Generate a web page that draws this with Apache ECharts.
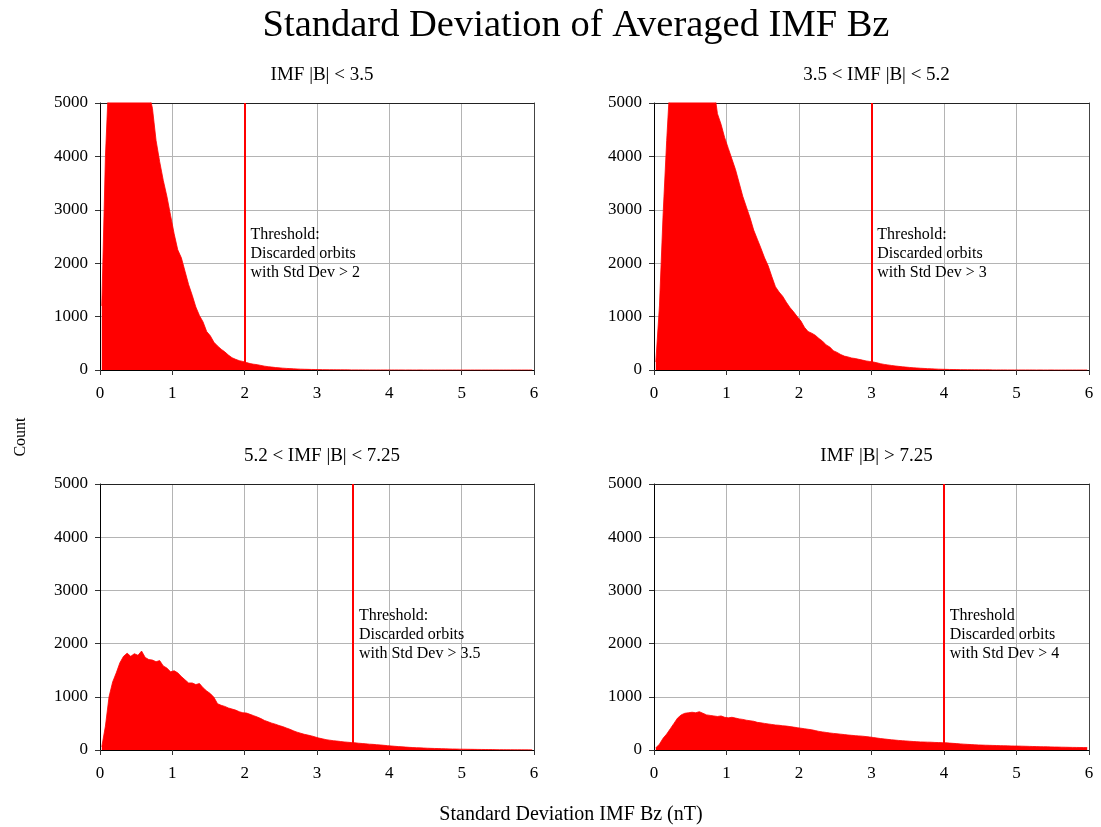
<!DOCTYPE html>
<html>
<head>
<meta charset="utf-8">
<script src="https://cdn.jsdelivr.net/npm/echarts@6/dist/echarts.min.js"></script>
<style>
  html, body { margin: 0; padding: 0; background: #fff; }
  #chart { width: 1101px; height: 827px; }
</style>
</head>
<body>
<div id="chart"></div>
<script>
// Histogram bins: left edges start at 0 and step by BIN_WIDTH (nT)
const BIN_WIDTH = 0.05;

const panelTitles = ['IMF |B| < 3.5', '3.5 < IMF |B| < 5.2', '5.2 < IMF |B| < 7.25', 'IMF |B| > 7.25'];
const thresholds = [2, 3, 3.5, 4];
const thresholdTexts = [
  'Threshold:\nDiscarded orbits\nwith Std Dev > 2',
  'Threshold:\nDiscarded orbits\nwith Std Dev > 3',
  'Threshold:\nDiscarded orbits\nwith Std Dev > 3.5',
  'Threshold\nDiscarded orbits\nwith Std Dev > 4'
];
const xTicks = [0, 1, 2, 3, 4, 5, 6];
const yTicks = [0, 1000, 2000, 3000, 4000, 5000];

// Counts per bin, |B| < 3.5
const countsLow = [
  1200, 4000, 5600, 6300, 6900, 7300, 7500, 7400, 7200, 6800,
  6300, 5900, 5500, 5200, 4900, 4300, 3900, 3550, 3250, 2900,
  2550, 2250, 2100, 1850, 1600, 1400, 1180, 1020, 900, 720,
  640, 520, 450, 390, 340, 280, 230, 200, 175, 160,
  140, 120, 108, 100, 85, 72, 62, 55, 46, 40,
  35, 30, 26, 22, 19, 16, 14, 12, 10, 9,
  8, 7, 6, 5, 5, 4, 4, 3, 3, 2,
  2, 2, 2, 1, 1, 1, 1, 1, 1, 1,
  1, 1, 1, 1, 0, 1, 0, 0, 1, 0,
  0, 0, 0, 0, 0, 0, 0, 0, 0, 0,
  0, 0, 0, 0, 0, 0, 0, 0, 0, 0,
  0, 0, 0, 0, 0, 0, 0, 0, 0, 0
];

// Counts per bin, 3.5 < |B| < 5.2
const countsMid = [
  150, 1200, 2900, 4300, 5500, 6100, 6600, 7000, 7200, 7300,
  7300, 7100, 6800, 6500, 6100, 5700, 5300, 4800, 4600, 4350,
  4150, 3950, 3750, 3500, 3250, 3050, 2850, 2620, 2450, 2280,
  2100, 1950, 1750, 1560, 1460, 1380, 1270, 1170, 1090, 1000,
  920, 800, 720, 690, 650, 590, 540, 470, 430, 360,
  330, 290, 260, 245, 225, 215, 200, 185, 170, 160,
  150, 135, 118, 105, 95, 85, 76, 68, 60, 54,
  48, 42, 38, 33, 29, 25, 22, 19, 16, 14,
  12, 10, 9, 8, 7, 6, 5, 5, 4, 4,
  3, 3, 3, 2, 2, 2, 2, 1, 1, 1,
  1, 1, 1, 1, 1, 0, 1, 0, 0, 1,
  0, 0, 0, 0, 0, 0, 0, 0, 0, 0
];

// Counts per bin, 5.2 < |B| < 7.25
const countsHigh = [
  60, 450, 1000, 1280, 1450, 1640, 1760, 1820, 1760, 1810,
  1780, 1860, 1740, 1700, 1690, 1660, 1680, 1580, 1540, 1470,
  1490, 1450, 1380, 1320, 1260, 1260, 1230, 1250, 1170, 1110,
  1060, 990, 870, 840, 820, 790, 770, 750, 720, 700,
  695, 670, 645, 620, 590, 555, 530, 505, 485, 460,
  440, 415, 390, 360, 335, 315, 295, 280, 265, 245,
  225, 210, 195, 185, 175, 168, 160, 152, 146, 140,
  135, 128, 122, 116, 110, 106, 100, 95, 88, 82,
  76, 70, 64, 60, 55, 50, 46, 43, 40, 37,
  34, 31, 29, 27, 25, 23, 21, 19, 18, 16,
  15, 14, 13, 12, 11, 10, 9, 8, 8, 7,
  6, 6, 5, 5, 4, 4, 4, 3, 3, 3
];

// Counts per bin, |B| > 7.25
const countsVeryHigh = [
  40, 110, 220, 300, 400, 500, 600, 660, 690, 700,
  710, 700, 720, 690, 660, 650, 640, 630, 640, 615,
  605, 615, 600, 585, 575, 560, 550, 540, 520, 510,
  500, 490, 480, 470, 465, 455, 450, 440, 430, 420,
  410, 400, 390, 380, 365, 350, 340, 330, 320, 312,
  305, 298, 290, 282, 276, 270, 265, 260, 252, 245,
  235, 225, 215, 208, 200, 192, 186, 180, 175, 170,
  165, 160, 156, 152, 150, 148, 146, 142, 140, 138,
  136, 130, 125, 120, 115, 110, 106, 102, 98, 95,
  92, 90, 88, 86, 84, 82, 80, 78, 76, 75,
  74, 72, 70, 68, 66, 64, 62, 61, 60, 58,
  56, 55, 53, 52, 50, 49, 48, 47, 46, 45
];

const allCounts = [countsLow, countsMid, countsHigh, countsVeryHigh];

const FONT = '"Liberation Serif", "Times New Roman", serif';
const RED = '#ff0000';

// Panel rectangles in pixels
const grids = [
  { left: 100, top: 103, width: 434, height: 267 },
  { left: 654, top: 103, width: 435, height: 267 },
  { left: 100, top: 484, width: 434, height: 266 },
  { left: 654, top: 484, width: 435, height: 266 }
];

const xAxes = [], yAxes = [], series = [], titles = [];

grids.forEach((g, i) => {
  // bottom value axis
  xAxes.push({
    gridIndex: i, type: 'value', min: 0, max: 6, interval: 1,
    axisLine: { show: true, onZero: false, lineStyle: { color: '#000', width: 1 } },
    axisTick: { show: true, length: 5, lineStyle: { color: '#333' } },
    axisLabel: { color: '#000', fontFamily: FONT, fontSize: 17, margin: 15,
                 formatter: v => xTicks.includes(v) ? String(v) : '' },
    splitLine: { show: true, lineStyle: { color: '#b4b4b4', width: 1 } }
  });
  // top frame line
  xAxes.push({
    gridIndex: i, type: 'value', min: 0, max: 6, position: 'top',
    axisLine: { show: true, onZero: false, lineStyle: { color: '#222', width: 1 } },
    axisTick: { show: false }, axisLabel: { show: false }, splitLine: { show: false }
  });
  // left count axis
  yAxes.push({
    gridIndex: i, type: 'value', min: 0, max: 5000, interval: 1000,
    axisLine: { show: true, onZero: false, lineStyle: { color: '#000', width: 1 } },
    axisTick: { show: true, length: 5, lineStyle: { color: '#333' } },
    axisLabel: { color: '#000', fontFamily: FONT, fontSize: 17, margin: 12,
                 formatter: v => yTicks.includes(v) ? String(v) : '' },
    splitLine: { show: true, lineStyle: { color: '#b4b4b4', width: 1 } }
  });
  // right frame line
  yAxes.push({
    gridIndex: i, type: 'value', min: 0, max: 5000, position: 'right',
    axisLine: { show: true, onZero: false, lineStyle: { color: '#444', width: 1 } },
    axisTick: { show: false }, axisLabel: { show: false }, splitLine: { show: false }
  });

  // each count is plotted at the centre of its bin
  const counts = allCounts[i];
  const data = counts.map((c, k) => [+((k + 0.5) * BIN_WIDTH).toFixed(3), c]);

  series.push({
    type: 'line', xAxisIndex: i * 2, yAxisIndex: i * 2,
    data: data, showSymbol: false, clip: true, silent: true,
    lineStyle: { color: RED, width: 0.8 },
    areaStyle: { color: RED, opacity: 1 },
    markLine: {
      silent: true, symbol: ['none', 'none'], animation: false,
      label: { show: false },
      lineStyle: { color: RED, width: 2, type: 'solid', opacity: 1 },
      data: [{ xAxis: thresholds[i] }]
    },
    z: 2
  });

  // annotation text anchored just right of the threshold line
  series.push({
    type: 'scatter', xAxisIndex: i * 2, yAxisIndex: i * 2,
    data: [[thresholds[i] + 0.08, 2170]], symbolSize: 0, silent: true,
    itemStyle: { opacity: 1 },
    label: {
      show: true, position: 'right', distance: 0, opacity: 1,
      formatter: thresholdTexts[i], color: '#000', fontFamily: FONT,
      fontSize: 16, lineHeight: 19, align: 'left', verticalAlign: 'middle'
    },
    z: 5
  });

  titles.push({
    text: panelTitles[i],
    left: g.left + g.width / 2, top: g.top - 42, textAlign: 'center',
    textStyle: { fontFamily: FONT, fontSize: 19, fontWeight: 'normal', color: '#000' }
  });
});

titles.unshift({
  text: 'Standard Deviation of Averaged IMF Bz',
  left: 571, top: 1, textAlign: 'center',
  textStyle: { fontFamily: FONT, fontSize: 38.5, fontWeight: 'normal', color: '#000' }
});

const chart = echarts.init(document.getElementById('chart'), null, { renderer: 'canvas' });
chart.setOption({
  backgroundColor: '#fff',
  animation: false,
  title: titles,
  grid: grids.map(g => Object.assign({ containLabel: false }, g)),
  xAxis: xAxes,
  yAxis: yAxes,
  series: series,
  graphic: [
    {
      type: 'text', x: 21, y: 437, rotation: Math.PI / 2,
      style: { text: 'Count', fontFamily: FONT, fontSize: 16, fill: '#000',
               align: 'center', verticalAlign: 'middle' }
    },
    {
      type: 'text', x: 571, y: 815,
      style: { text: 'Standard Deviation IMF Bz (nT)', fontFamily: FONT, fontSize: 20, fill: '#000',
               align: 'center', verticalAlign: 'middle' }
    }
  ]
});
</script>
</body>
</html>
